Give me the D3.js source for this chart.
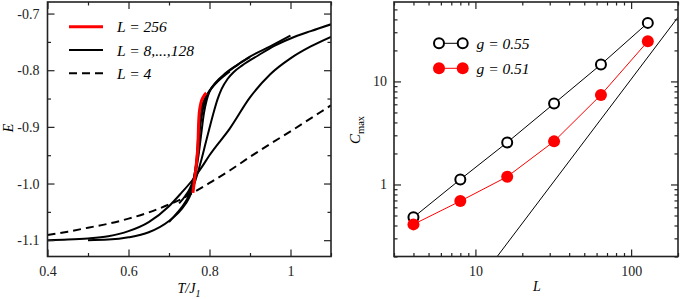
<!DOCTYPE html>
<html>
<head>
<meta charset="utf-8">
<script src="https://cdn.jsdelivr.net/npm/d3@7"></script>
<style>
    body { margin: 0; background: #fff; }
    svg { display: block; font-family: 'Liberation Serif', 'Times New Roman', serif; }
    .tick line { stroke: #222; stroke-width: 1.2px; }
</style>
</head>
<body>
<div id="chart"></div>
<script>
/* ---------- data: left panel, energy E vs T/J1 ---------- */
const energyL4 = [[0.4,-1.091],[0.45,-1.085],[0.5,-1.078],[0.55,-1.071],[0.6,-1.062],[0.65,-1.051],[0.7,-1.037],[0.74,-1.024],
    [0.76,-1.016],[0.8,-0.999],[0.85,-0.977],[0.9,-0.953],[0.95,-0.930],[1.0,-0.908],[1.05,-0.885],[1.1,-0.862]];
const energyL8 = [[0.4,-1.100],[0.45,-1.099],[0.5,-1.097],[0.55,-1.093],[0.6,-1.084],[0.65,-1.068],[0.7,-1.040],[0.73,-1.017],
    [0.76,-0.992],[0.78,-0.972],[0.8,-0.950],[0.85,-0.903],[0.9,-0.848],[0.95,-0.807],[1.0,-0.779],[1.05,-0.758],[1.1,-0.741]];
const energyL16 = [[0.5,-1.100],[0.55,-1.099],[0.6,-1.095],[0.65,-1.086],[0.7,-1.066],[0.73,-1.046],[0.75,-1.025],[0.765,-0.995],
    [0.78,-0.958],[0.79,-0.930],[0.8,-0.902],[0.81,-0.875],[0.82,-0.851],[0.83,-0.833],[0.845,-0.815],[0.86,-0.803],
    [0.88,-0.792],[0.92,-0.774],[0.96,-0.757],[1.0,-0.744],[1.05,-0.731],[1.1,-0.719]];
const energyL32 = [[0.7,-1.068],[0.72,-1.052],[0.74,-1.033],[0.755,-1.012],[0.765,-0.985],[0.773,-0.950],[0.78,-0.910],
    [0.786,-0.877],[0.793,-0.853],[0.8,-0.838],[0.815,-0.822],[0.84,-0.805],[0.87,-0.790],[0.9,-0.776],[0.95,-0.758],[1.0,-0.739]];
const energyL64 = [[0.725,-1.035],[0.74,-1.022],[0.752,-1.008],[0.762,-0.988],[0.768,-0.962],[0.773,-0.930],[0.777,-0.900],
    [0.782,-0.875],[0.789,-0.855],[0.798,-0.840],[0.815,-0.823],[0.84,-0.806],[0.87,-0.790],[0.9,-0.777]];
const energyL128 = [[0.745,-1.022],[0.754,-1.008],[0.761,-0.992],[0.766,-0.970],[0.77,-0.940],[0.773,-0.905],[0.777,-0.878],
    [0.783,-0.860],[0.79,-0.848],[0.8,-0.836],[0.82,-0.820],[0.85,-0.802]];
const energyL256 = [[0.759,-1.0165],[0.762,-1.000],[0.765,-0.982],[0.768,-0.962],[0.7705,-0.942],[0.772,-0.920],[0.7728,-0.900],
    [0.774,-0.882],[0.776,-0.868],[0.779,-0.857],[0.784,-0.848],[0.792,-0.840]];

const tempTicks = [0.4, 0.6, 0.8, 1.0];
const tempMinor = [0.5, 0.7, 0.9, 1.1];
const energyTicks = [-1.1, -1.0, -0.9, -0.8, -0.7];
const energyMinor = [-1.05, -0.95, -0.85, -0.75];

/* ---------- data: right panel, C_max vs L ---------- */
const sizes = [4, 8, 16, 32, 64, 128];
const cmaxG055 = [0.48, 1.12, 2.56, 6.1, 14.6, 37];
const cmaxG051 = [0.41, 0.69, 1.19, 2.62, 7.4, 24.5];
const guideL = [13.8, 200];
const guideC = [0.2, 42];

const sizeTicks = [10, 100];
const sizeMinor = [3, 4, 5, 6, 7, 8, 9, 20, 30, 40, 50, 60, 70, 80, 90, 200];
const cmaxTicks = [1, 10];
const cmaxMinor = [0.2, 0.3, 0.4, 0.5, 0.6, 0.7, 0.8, 0.9, 2, 3, 4, 5, 6, 7, 8, 9, 20, 30, 40, 50];

const RED = '#ff0000';
const SERIF = "'Liberation Serif', 'Times New Roman', serif";

const svg = d3.select('#chart').append('svg')
    .attr('width', 681)
    .attr('height', 299);

// draws a framed box with inward ticks on all four sides
function drawFrame(g, x, y, w, h, major, minor, fmtX, fmtY, padX, padY) {
    const axes = [
        { ax: d3.axisBottom(x), tr: `translate(0,${h})`, vals: major.x, min: minor.x, fmt: fmtX, pad: padX },
        { ax: d3.axisTop(x), tr: 'translate(0,0)', vals: major.x, min: minor.x, fmt: null },
        { ax: d3.axisLeft(y), tr: 'translate(0,0)', vals: major.y, min: minor.y, fmt: fmtY, pad: padY },
        { ax: d3.axisRight(y), tr: `translate(${w},0)`, vals: major.y, min: minor.y, fmt: null }
    ];
    axes.forEach(a => {
        // minor ticks first, then the labelled major ones
        g.append('g').attr('transform', a.tr)
            .call(a.ax.tickValues(a.min).tickSize(-3.5).tickFormat(''))
            .call(s => s.select('.domain').remove());
        g.append('g').attr('transform', a.tr)
            .call(a.ax.tickValues(a.vals).tickSize(-7)
                .tickPadding(a.pad || 0)
                .tickFormat(a.fmt ? a.fmt : ''))
            .attr('font-family', SERIF)
            .attr('font-size', 14)
            .call(s => s.select('.domain').remove())
            .call(s => s.selectAll('text').style('font-family', SERIF).style('fill', '#222'));
    });
    g.append('rect')
        .attr('width', w).attr('height', h)
        .attr('fill', 'none')
        .attr('stroke', '#222')
        .attr('stroke-width', 1.6);
}

/* ---------- left panel ---------- */
const left = { x: 47.5, y: 2, w: 283.5, h: 254.5 };
const gL = svg.append('g').attr('transform', `translate(${left.x},${left.y})`);

const xT = d3.scaleLinear().domain([0.4, 1.1]).range([0, left.w]);
const yE = d3.scaleLinear().domain([-1.1288, -0.6796]).range([left.h, 0]);

gL.append('clipPath').attr('id', 'clipL')
    .append('rect').attr('width', left.w).attr('height', left.h);

const lineE = d3.line()
    .x(d => xT(d[0]))
    .y(d => yE(d[1]))
    .curve(d3.curveMonotoneX);

const curves = gL.append('g').attr('clip-path', 'url(#clipL)');
curves.append('path').datum(energyL4)
    .attr('d', lineE).attr('fill', 'none')
    .attr('stroke', '#000').attr('stroke-width', 2)
    .attr('stroke-dasharray', '8,5');
[energyL8, energyL16, energyL32, energyL64, energyL128].forEach(c => {
    curves.append('path').datum(c)
        .attr('d', lineE).attr('fill', 'none')
        .attr('stroke', '#000').attr('stroke-width', 2);
});
curves.append('path').datum(energyL256)
    .attr('d', lineE).attr('fill', 'none')
    .attr('stroke', RED).attr('stroke-width', 3);

drawFrame(gL, xT, yE, left.w, left.h,
    { x: tempTicks, y: energyTicks }, { x: tempMinor, y: energyMinor },
    d => (d === 1 ? '1' : d.toFixed(1)), d => d.toFixed(1), 10, 8);

// legend (left)
const legL = [
    { label: 'L = 256', color: RED, dash: null, w: 3 },
    { label: 'L = 8,...,128', color: '#000', dash: null, w: 2 },
    { label: 'L = 4', color: '#000', dash: '8,5', w: 2 }
];
legL.forEach((d, i) => {
    const yy = 24.7 + i * 23.3;
    gL.append('line')
        .attr('x1', 21.5).attr('x2', 55.5).attr('y1', yy).attr('y2', yy)
        .attr('stroke', d.color).attr('stroke-width', d.w)
        .attr('stroke-dasharray', d.dash);
    gL.append('text')
        .attr('x', 69.5).attr('y', yy + 5.5)
        .style('font-size', '15.5px').style('font-style', 'italic')
        .text(d.label);
});

// axis titles (left)
svg.append('text')
    .attr('x', 189).attr('y', 293)
    .attr('text-anchor', 'middle')
    .style('font-size', '14px').style('font-style', 'italic')
    .text('T/J')
    .append('tspan').attr('dy', 4).style('font-size', '10px').text('1');

svg.append('text')
    .attr('transform', 'translate(13,128) rotate(-90)')
    .attr('text-anchor', 'middle')
    .style('font-size', '14px').style('font-style', 'italic')
    .text('E');

/* ---------- right panel ---------- */
const right = { x: 394, y: 2, w: 284, h: 254.5 };
const gR = svg.append('g').attr('transform', `translate(${right.x},${right.y})`);

const xL = d3.scaleLog().domain([3, 200]).range([0, right.w]);
const yC = d3.scaleLog().domain([0.2, 59]).range([right.h, 0]);

gR.append('clipPath').attr('id', 'clipR')
    .append('rect').attr('width', right.w).attr('height', right.h);

const plotR = gR.append('g').attr('clip-path', 'url(#clipR)');

const lineC = d3.line().x(d => xL(d[0])).y(d => yC(d[1]));

plotR.append('path')
    .datum(guideL.map((l, i) => [l, guideC[i]]))
    .attr('d', lineC).attr('fill', 'none')
    .attr('stroke', '#000').attr('stroke-width', 1);

const g055 = sizes.map((l, i) => [l, cmaxG055[i]]);
const g051 = sizes.map((l, i) => [l, cmaxG051[i]]);

plotR.append('path').datum(g055)
    .attr('d', lineC).attr('fill', 'none')
    .attr('stroke', '#000').attr('stroke-width', 1);
plotR.append('path').datum(g051)
    .attr('d', lineC).attr('fill', 'none')
    .attr('stroke', RED).attr('stroke-width', 1);

gR.selectAll('.m055').data(g055).join('circle')
    .attr('class', 'm055')
    .attr('cx', d => xL(d[0])).attr('cy', d => yC(d[1]))
    .attr('r', 5).attr('fill', '#fff')
    .attr('stroke', '#000').attr('stroke-width', 2);
gR.selectAll('.m051').data(g051).join('circle')
    .attr('class', 'm051')
    .attr('cx', d => xL(d[0])).attr('cy', d => yC(d[1]))
    .attr('r', 6).attr('fill', RED);

drawFrame(gR, xL, yC, right.w, right.h,
    { x: sizeTicks, y: cmaxTicks }, { x: sizeMinor, y: cmaxMinor },
    d => String(d), d => String(d), 10, 7);

// legend (right)
const legR = [
    { label: 'g = 0.55', open: true, color: '#000' },
    { label: 'g = 0.51', open: false, color: RED }
];
legR.forEach((d, i) => {
    const yy = 41.3 + i * 25;
    gR.append('line')
        .attr('x1', 45).attr('x2', 68.7).attr('y1', yy).attr('y2', yy)
        .attr('stroke', d.color).attr('stroke-width', 1);
    [45, 68.7].forEach(cx => {
        gR.append('circle')
            .attr('cx', cx).attr('cy', yy)
            .attr('r', d.open ? 5 : 6)
            .attr('fill', d.open ? '#fff' : RED)
            .attr('stroke', d.open ? '#000' : 'none')
            .attr('stroke-width', 2);
    });
    gR.append('text')
        .attr('x', 82.5).attr('y', yy + 5.5)
        .style('font-size', '15.5px').style('font-style', 'italic')
        .text(d.label);
});

// axis titles (right)
svg.append('text')
    .attr('x', 537).attr('y', 291)
    .attr('text-anchor', 'middle')
    .style('font-size', '14px').style('font-style', 'italic')
    .text('L');

const cLabel = svg.append('text')
    .attr('transform', 'translate(360,130) rotate(-90)')
    .attr('text-anchor', 'middle')
    .style('font-size', '15px');
cLabel.append('tspan').style('font-style', 'italic').text('C');
cLabel.append('tspan').attr('dy', 4).style('font-size', '10.5px').text('max');
</script>
</body>
</html>
